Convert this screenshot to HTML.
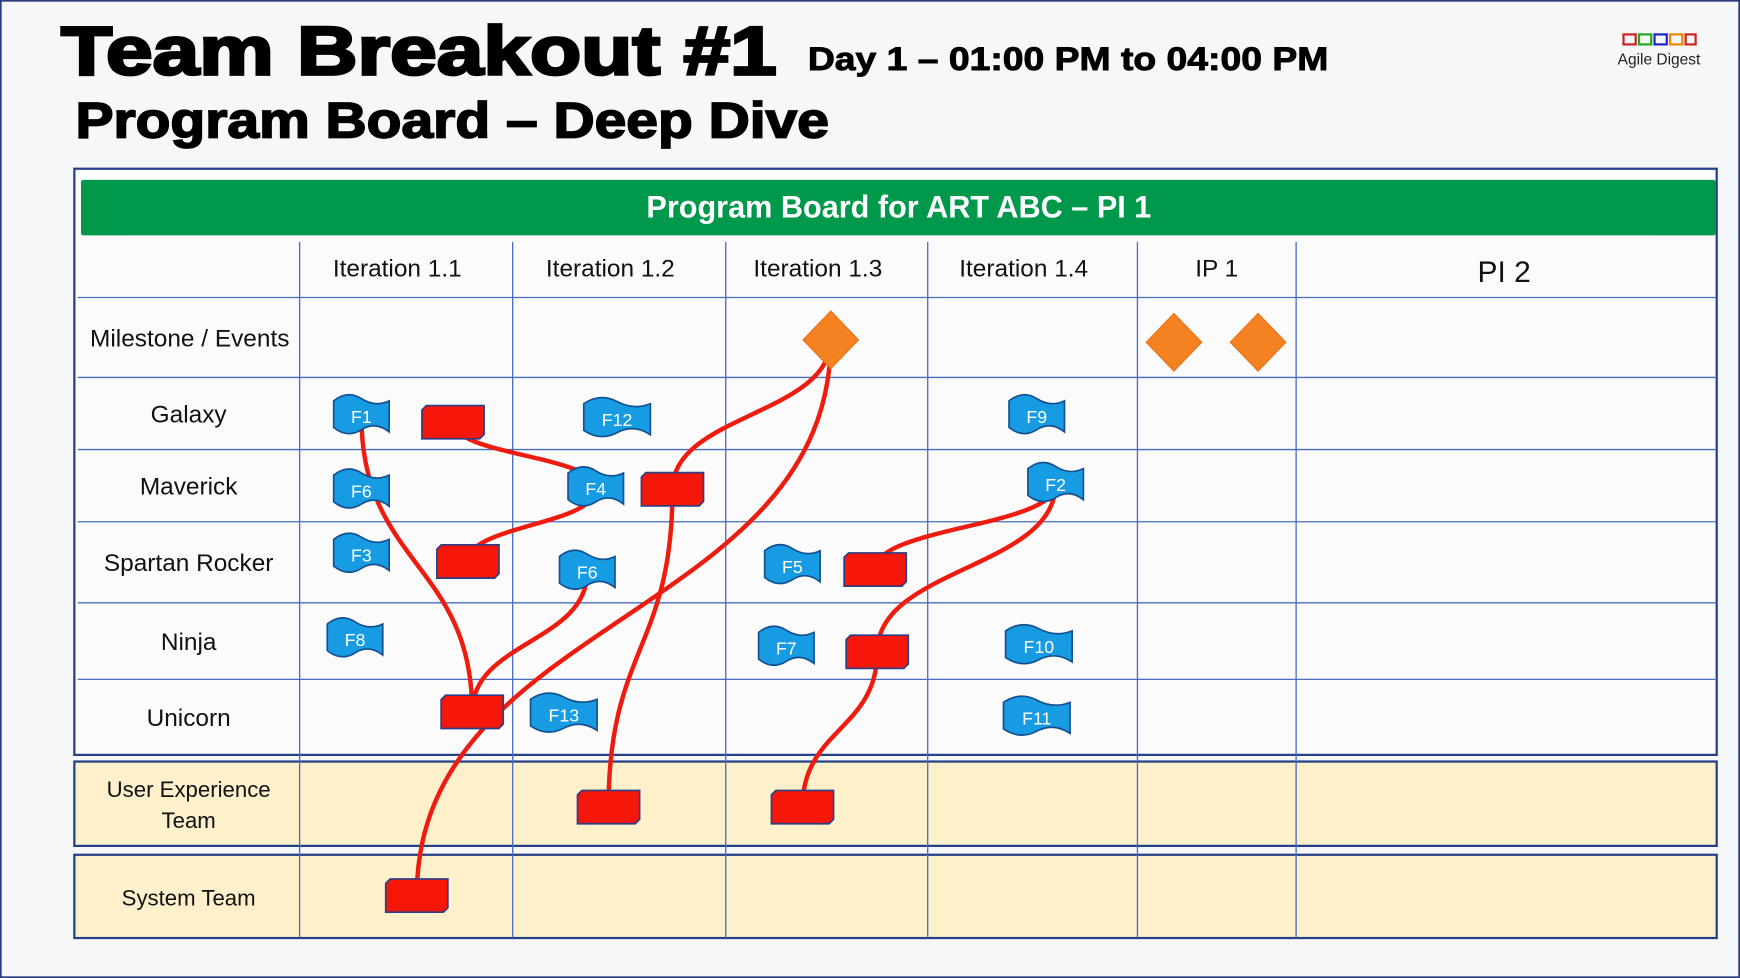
<!DOCTYPE html>
<html><head><meta charset="utf-8"><style>
html,body{margin:0;padding:0;background:#f6f7f9;}
svg{display:block;font-family:"Liberation Sans",sans-serif;}
</style></head><body>
<svg width="1740" height="978" viewBox="0 0 1568 881" preserveAspectRatio="none" xmlns="http://www.w3.org/2000/svg">
<rect x="0" y="0" width="1568" height="881" fill="#f6f7f9" stroke="#2a3d7a" stroke-width="3"/>
<text x="55" y="67" font-size="62" font-weight="bold" fill="#000" stroke="#000" stroke-width="2.5" textLength="645" lengthAdjust="spacingAndGlyphs">Team Breakout #1</text>
<text x="728" y="63" font-size="29" font-weight="bold" fill="#000" stroke="#000" stroke-width="0.8" textLength="469" lengthAdjust="spacingAndGlyphs">Day 1 – 01:00 PM to 04:00 PM</text>
<text x="68" y="124" font-size="45" font-weight="bold" fill="#000" stroke="#000" stroke-width="1.5" textLength="679" lengthAdjust="spacingAndGlyphs">Program Board – Deep Dive</text>
<g>
<rect x="1463" y="31" width="11" height="9" fill="none" stroke="#c22" stroke-width="2"/>
<rect x="1477" y="31" width="11" height="9" fill="none" stroke="#2a2" stroke-width="2"/>
<rect x="1491" y="31" width="11" height="9" fill="none" stroke="#22c" stroke-width="2"/>
<rect x="1505" y="31" width="11" height="9" fill="none" stroke="#e80" stroke-width="2"/>
<rect x="1519" y="31" width="9" height="9" fill="none" stroke="#c22" stroke-width="2"/>
<text x="1495" y="58" font-size="14" text-anchor="middle" fill="#222">Agile Digest</text>
</g>
<g id="board"></g>
</svg>
<script>
const NS='http://www.w3.org/2000/svg';
const colHeaders=['Iteration 1.1','Iteration 1.2','Iteration 1.3','Iteration 1.4','IP 1','PI 2'];
const rowHeaders=['Milestone / Events','Galaxy','Maverick','Spartan Rocker','Ninja','Unicorn','User Experience|Team','System Team'];
const flagLabels=['F1','F12','F9','F6','F4','F2','F3','F6','F5','F8','F7','F10','F13','F11'];
const flagCols=[0.29,1.49,3.52,0.29,1.39,3.61,0.29,1.35,2.33,0.26,2.30,3.53,1.24,3.52];
const flagRows=[1.54,1.58,1.54,2.57,2.54,2.48,3.41,3.62,3.55,4.48,4.59,4.57,5.47,5.51];
const taskCols=[0.72,1.75,0.79,2.74,2.75,0.81,1.45,2.38,0.55];
const taskRows=[1.62,2.55,3.49,3.59,4.64,5.43,6.54,6.54,7.49];
const milestoneCols=[2.52,4.23,4.76];
const milestoneRows=[0.53,0.56,0.56];
// links: [fromType,fromIndex,toType,toIndex]
const links=[['f',0,'t',5],['t',0,'f',4],['t',2,'f',4],['f',7,'t',5],['t',1,'m',0],['t',1,'t',6],['t',8,'m',0],['t',3,'f',5],['t',4,'f',5],['t',4,'t',7]];

const colEdges=[270,462,654,836,1025,1168,1547];
const rowBands=[[268,340],[340,405],[405,470],[470,543],[543,612],[612,680],[686,762],[770,845]];
function xS(v){const i=Math.min(Math.floor(v),colEdges.length-2);return colEdges[i]+(v-i)*(colEdges[i+1]-colEdges[i]);}
function yS(v){const i=Math.min(Math.floor(v),rowBands.length-1);const b=rowBands[i];return b[0]+(v-i)*(b[1]-b[0]);}
const g=document.getElementById('board');
function el(t,a,p){const e=document.createElementNS(NS,t);for(const k in a)e.setAttribute(k,a[k]);(p||g).appendChild(e);return e;}

[6,7].forEach(i=>{const b=rowBands[i];
const r=el('rect',{x:67,y:b[0],width:1480,height:b[1]-b[0],fill:'#fdf0cb',stroke:'#233f86','stroke-width':2});

});
const bd=el('rect',{x:67,y:152,width:1480,height:528,fill:'#fbfbfc',stroke:'#233f86','stroke-width':2});


const gb=el('rect',{x:73,y:162,width:1473,height:50,fill:'#00994c',rx:2});


const gt=el('text',{x:810,y:196,'font-size':28,'font-weight':'bold',fill:'#fff','text-anchor':'middle',textLength:455,lengthAdjust:'spacingAndGlyphs'});
gt.textContent='Program Board for ART ABC – PI 1';


colEdges.slice(0,6).forEach(x=>{
 const l=el('line',{x1:x,y1:218,x2:x,y2:845,stroke:'#4a6cc0','stroke-width':1.2});
 
 });
rowBands.slice(0,6).forEach(b=>{
 const l=el('line',{x1:70,y1:b[0],x2:1547,y2:b[0],stroke:'#4a6cc0','stroke-width':1.2});
 
 });
colHeaders.forEach((h,i)=>{
 const t=el('text',{x:(colEdges[i]+colEdges[i+1])/2-(i<4?8:0)+(i==5?-2:0),y:i==5?254:249,'font-size':i==5?27:22,'text-anchor':'middle',fill:'#111'});
 t.textContent=h;
 
 });
rowHeaders.forEach((h,i)=>{
 const b=rowBands[i];const parts=h.split('|');
 parts.forEach((p,j)=>{
 const t=el('text',{x:i==0?171:170,y:(b[0]+b[1])/2+8+(parts.length>1?(j-0.5)*28:0),'font-size':i>=6?20:22,'text-anchor':'middle',fill:'#111'});
 t.textContent=p;
 
 });});
function pt(type,i){if(type=='f')return[xS(flagCols[i]),yS(flagRows[i])];if(type=='t')return[xS(taskCols[i]),yS(taskRows[i])];return[xS(milestoneCols[i]),yS(milestoneRows[i])];}
links.forEach(k=>{const a=pt(k[0],k[1]),b=pt(k[2],k[3]);const m=(a[1]+b[1])/2;
 const p=el('path',{d:`M${a[0]},${a[1]} C${a[0]},${m} ${b[0]},${m} ${b[0]},${b[1]}`,fill:'none',stroke:'#ee1c0e','stroke-width':4});
 
 });
milestoneCols.forEach((c,i)=>{const x=xS(c),y=yS(milestoneRows[i]);
 const d=el('path',{d:`M${x},${y-26} L${x+25},${y} L${x},${y+26} L${x-25},${y} Z`,fill:'#f58220',stroke:'#e8701a','stroke-width':1});
 
 });
taskCols.forEach((c,i)=>{const x=xS(c),y=yS(taskRows[i]);
 const r=el('path',{d:`M${x-28},${y-11} L${x-24},${y-15} L${x+28},${y-15} L${x+28},${y+11} L${x+24},${y+15} L${x-28},${y+15} Z`,fill:'#f5180a',stroke:'#2a3f88','stroke-width':1.5});
 
 });
flagLabels.forEach((f,i)=>{const x=xS(flagCols[i]),y=yS(flagRows[i]);const w=f.length>2?30:25;
 const p=el('path',{d:`M${x-w},${y-14} q${w/2},-10 ${w},-2 t${w},2 v28 q${-w/2},-10 ${-w},-2 t${-w},-2 z`,fill:'#179be3',stroke:'#14508f','stroke-width':1.5});
 
 
 const t=el('text',{x:x,y:y+6,'font-size':16,'text-anchor':'middle',fill:'#fff'});
 t.textContent=f;
 
 });
</script>
</body></html>
